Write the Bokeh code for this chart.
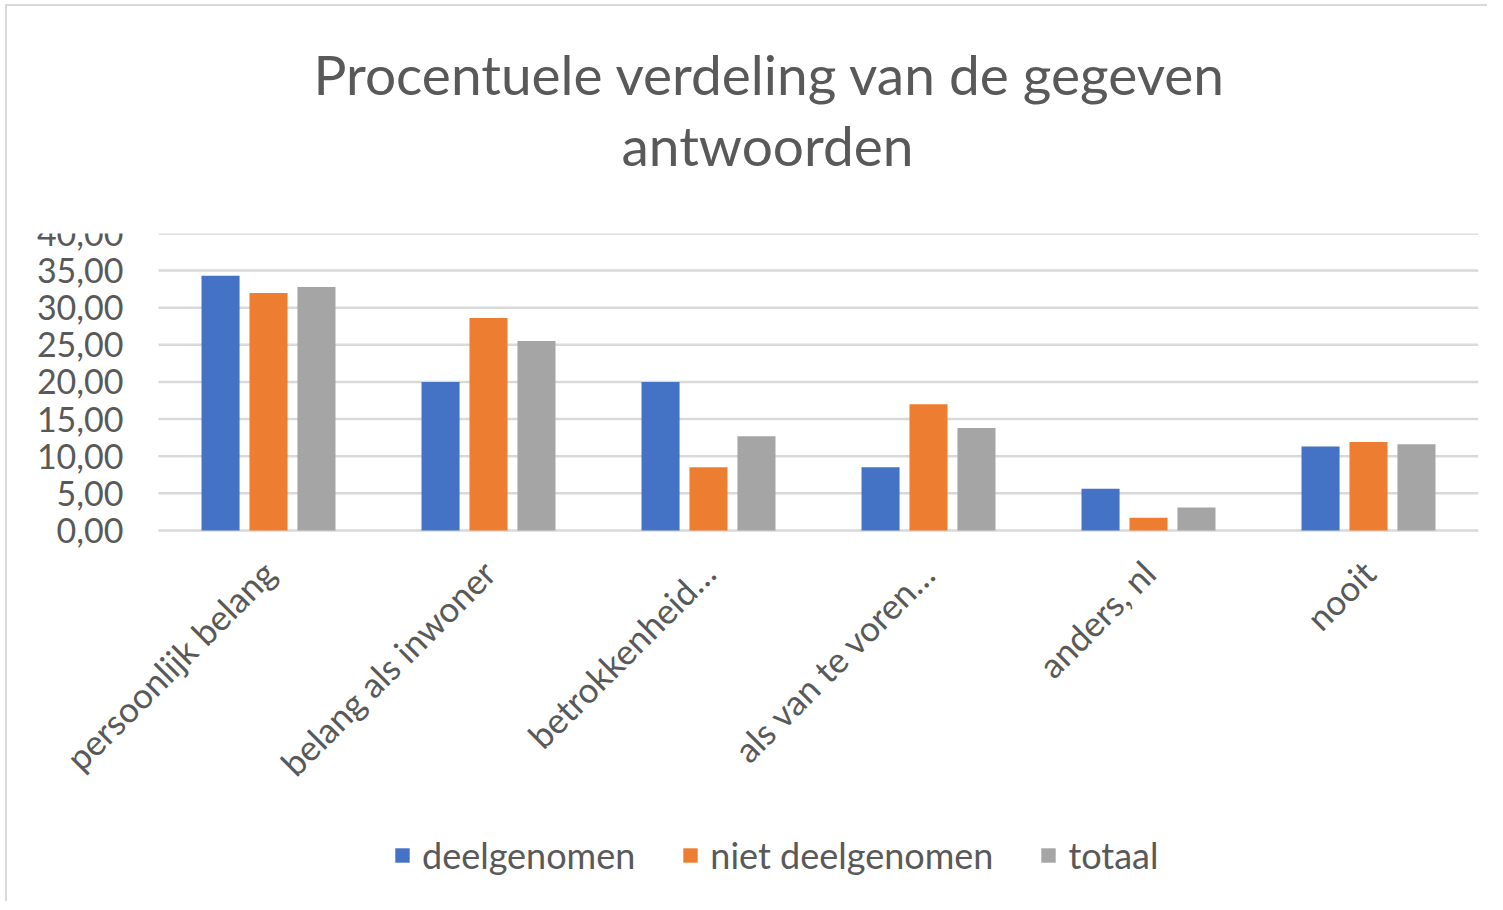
import math
from bokeh.plotting import figure
from bokeh.models import (Range1d, ColumnDataSource, CustomJSTickFormatter, Legend, LegendItem,
                          Title, FixedTicker)
from bokeh.embed import file_html
from bokeh.resources import INLINE

categories = ["persoonlijk belang", "belang als inwoner", "betrokkenheid…",
              "als van te voren…", "anders, nl", "nooit"]
deelgenomen = [34.3, 20.0, 20.0, 8.5, 5.6, 11.3]
niet_deelgenomen = [32.0, 28.6, 8.5, 17.0, 1.7, 11.9]
totaal = [32.8, 25.5, 12.7, 13.8, 3.1, 11.6]
series_names = ["deelgenomen", "niet deelgenomen", "totaal"]
colors = ["#4472C4", "#ED7D31", "#A5A5A5"]
y_ticks = [0, 5, 10, 15, 20, 25, 30, 35, 40]
title_lines = ["Procentuele verdeling van de gegeven", "antwoorden"]

FONT = "Lato"
TXT = "#595959"

n_cat = len(categories)
centers = [i + 0.5 for i in range(n_cat)]

# the frame extends left of the first category and below 0, so that the rotated
# category labels and the legend are drawn inside it
p = figure(x_range=Range1d(-0.6, n_cat), y_range=Range1d(-50, 40),
           frame_width=1452, frame_height=668,
           output_backend="svg", toolbar_location=None, title=None,
           min_border_left=19, min_border_right=9, min_border_top=227, min_border_bottom=0)
p.styles = {"border-left": "2px solid #D9D9D9", "border-top": "2px solid #D9D9D9",
            "margin-left": "5px", "margin-top": "4px"}

# spacer between the frame and the two title lines
p.add_layout(Title(text=" ", text_font_size="10px", standoff=41), "above")
for line, off in zip(reversed(title_lines), [595, 287]):
    t = Title(text=line, align="left", text_font=FONT, text_font_size="55px",
              text_font_style="normal", text_color=TXT, offset=off, standoff=3)
    p.add_layout(t, "above")

# horizontal gridlines over the category span only
p.segment(x0=[0] * len(y_ticks), x1=[n_cat] * len(y_ticks), y0=y_ticks, y1=y_ticks,
          line_color="#D9D9D9", line_width=2.5)

renderers = []
for vals, off, col in zip([deelgenomen, niet_deelgenomen, totaal], [-0.218, 0.0, 0.218], colors):
    src = ColumnDataSource(dict(x=[c + off for c in centers], top=vals))
    r = p.vbar(x="x", top="top", width=0.173, source=src, fill_color=col, line_color=None)
    renderers.append(r)

p.xgrid.visible = False
p.ygrid.visible = False

p.yaxis.ticker = FixedTicker(ticks=y_ticks)
p.yaxis.formatter = CustomJSTickFormatter(code="return tick.toFixed(2).replace('.', ',');")
p.yaxis.fixed_location = 0
p.xaxis.ticker = FixedTicker(ticks=centers)
p.xaxis.formatter = CustomJSTickFormatter(args=dict(labels=categories),
                                          code="return labels[Math.floor(tick)];")
p.xaxis.fixed_location = 0
for ax in (p.xaxis, p.yaxis):
    ax.axis_line_color = None
    ax.major_tick_line_color = None
    ax.minor_tick_line_color = None
    ax.major_label_text_font = FONT
    ax.major_label_text_color = TXT
p.yaxis.major_label_text_font_size = "34px"
p.yaxis.major_label_standoff = 29
p.xaxis.major_label_text_font_size = "35px"
p.xaxis.major_label_orientation = math.pi / 4
p.xaxis.major_label_standoff = 30
p.outline_line_color = None

legend = Legend(items=[LegendItem(label=n, renderers=[r]) for n, r in zip(series_names, renderers)],
                orientation="horizontal", location=(367, 24),
                glyph_width=18, glyph_height=18, label_standoff=11, spacing=46,
                label_text_font=FONT, label_text_font_size="36px", label_text_color=TXT,
                border_line_color=None, background_fill_alpha=0, margin=0, padding=0)
p.add_layout(legend, "center")

open("out.html", "w").write(file_html(p, INLINE))
